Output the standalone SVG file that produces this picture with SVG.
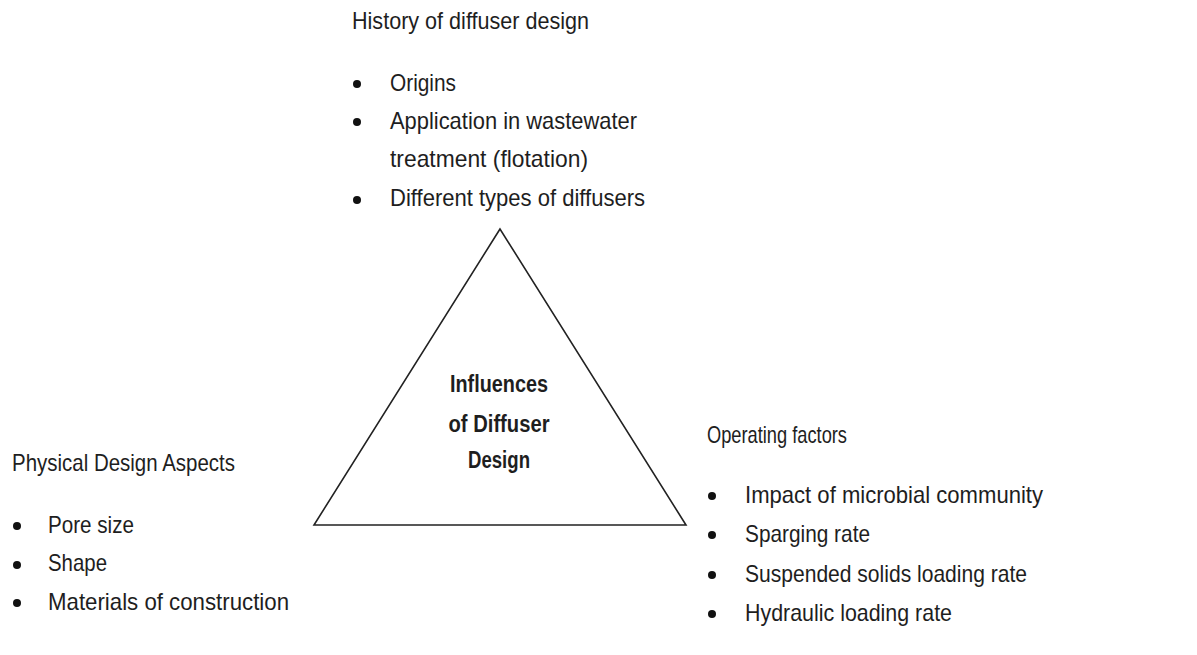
<svg xmlns="http://www.w3.org/2000/svg" width="1197" height="655" viewBox="0 0 1197 655">
<style>
text{font-family:"Liberation Sans",Arial,sans-serif;font-size:24px;fill:#1e1e1e}
.b{font-weight:bold;text-anchor:middle;font-size:23px}
circle{fill:#111}
</style>
<rect width="1197" height="655" fill="#fff"/>
<g id="connectors"></g>
<g id="triangle">
<polygon points="500,229 314,525 686,525" fill="none" stroke="#222" stroke-width="1.6"/>
<text class="b" x="499" y="392" textLength="98" lengthAdjust="spacingAndGlyphs">Influences</text>
<text class="b" x="499" y="432" textLength="101" lengthAdjust="spacingAndGlyphs">of Diffuser</text>
<text class="b" x="499" y="468" textLength="62" lengthAdjust="spacingAndGlyphs">Design</text>
</g>
<g id="history">
<text x="352" y="29" textLength="237" lengthAdjust="spacingAndGlyphs">History of diffuser design</text>
<circle cx="357" cy="84" r="4"/>
<text x="390" y="91" textLength="66" lengthAdjust="spacingAndGlyphs">Origins</text>
<circle cx="357" cy="122" r="4"/>
<text x="390" y="129" textLength="247" lengthAdjust="spacingAndGlyphs">Application in wastewater</text>
<text x="390" y="167" textLength="198" lengthAdjust="spacingAndGlyphs">treatment (flotation)</text>
<circle cx="357" cy="200" r="4"/>
<text x="390" y="206" textLength="255" lengthAdjust="spacingAndGlyphs">Different types of diffusers</text>
</g>
<g id="physical">
<text x="12" y="471" textLength="223" lengthAdjust="spacingAndGlyphs">Physical Design Aspects</text>
<circle cx="17" cy="526" r="4"/>
<text x="48" y="533" textLength="86" lengthAdjust="spacingAndGlyphs">Pore size</text>
<circle cx="17" cy="565" r="4"/>
<text x="48" y="571" textLength="59" lengthAdjust="spacingAndGlyphs">Shape</text>
<circle cx="17" cy="603" r="4"/>
<text x="48" y="610" textLength="241" lengthAdjust="spacingAndGlyphs">Materials of construction</text>
</g>
<g id="operating">
<text x="707" y="443" textLength="140" lengthAdjust="spacingAndGlyphs">Operating factors</text>
<circle cx="712" cy="496" r="4"/>
<text x="745" y="503" textLength="298" lengthAdjust="spacingAndGlyphs">Impact of microbial community</text>
<circle cx="712" cy="535" r="4"/>
<text x="745" y="542" textLength="125" lengthAdjust="spacingAndGlyphs">Sparging rate</text>
<circle cx="712" cy="575" r="4"/>
<text x="745" y="582" textLength="282" lengthAdjust="spacingAndGlyphs">Suspended solids loading rate</text>
<circle cx="712" cy="614" r="4"/>
<text x="745" y="621" textLength="207" lengthAdjust="spacingAndGlyphs">Hydraulic loading rate</text>
</g>
</svg>
